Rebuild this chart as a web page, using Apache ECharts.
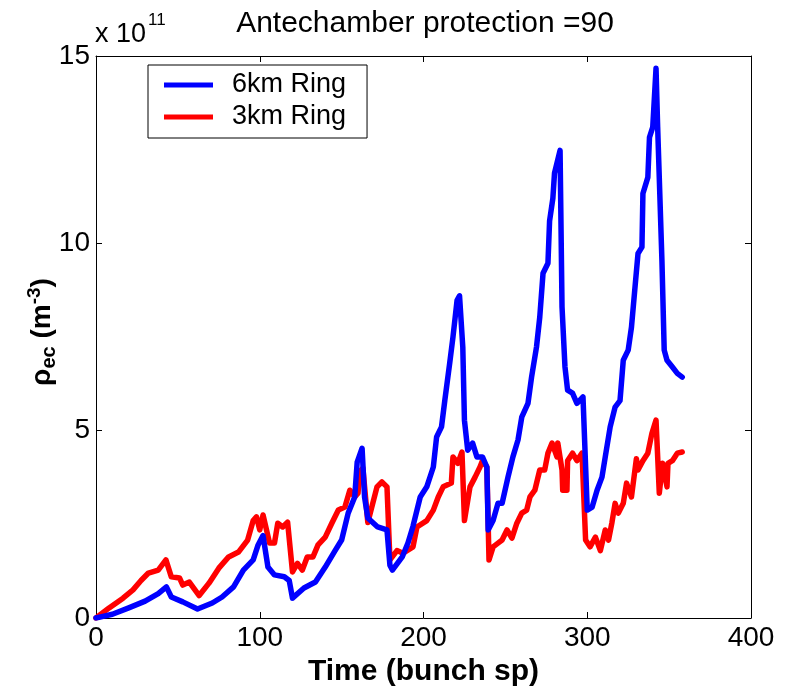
<!DOCTYPE html>
<html>
<head>
<meta charset="utf-8">
<script src="https://cdn.jsdelivr.net/npm/echarts@6/dist/echarts.min.js"></script>
<style>html,body{margin:0;padding:0;background:#fff}#c{width:785px;height:690px}</style>
</head>
<body>
<div id="c"></div>
<script>
// ---- data (x: bunch spacing, y: density in units of 1e11 m^-3) ----
var ring6km = [
  [0,0],[5,0.05],[10,0.1],[20,0.27],[30,0.45],[38,0.65],[43,0.83],[46,0.56],[53,0.43],[62,0.24],
  [71,0.4],[77,0.56],[84,0.83],[90,1.28],[96,1.55],[99,1.95],[102,2.2],[105,1.36],[109,1.15],[115,1.1],
  [118,1.0],[120,0.53],[127,0.8],[134,0.96],[140,1.36],[146,1.8],[150,2.08],[154,2.8],[158,3.23],[159.5,4.16],
  [162.5,4.53],[164,3.23],[166,2.67],[172,2.43],[177.7,2.35],[179.5,1.41],[181,1.28],[187,1.63],[190.5,2.0],[193.6,2.45],
  [198,3.23],[202,3.5],[206,4.03],[208,4.83],[211,5.1],[213,5.8],[216,6.8],[218,7.5],[220.5,8.48],[222,8.6],
  [224,7.23],[225,5.28],[227,4.48],[230,4.67],[232.6,4.3],[236,4.3],[238.7,4.03],[239.5,2.35],[242.5,2.6],[245.5,3.06],
  [248,3.06],[251.6,3.76],[254.6,4.3],[257.7,4.75],[260,5.36],[263.8,5.73],[266,6.43],[269,7.23],[271,8.03],[273,9.2],
  [276,9.47],[277,10.6],[279,11.2],[280,11.87],[283.4,12.48],[284.6,8.3],[286.4,6.7],[288,6.08],[291,6.0],[293.7,5.73],
  [297.4,5.9],[300,2.88],[303,2.96],[306,3.41],[309,3.76],[311,4.3],[314,5.1],[317,5.63],[320,5.8],[322,6.88],
  [325,7.15],[327,7.76],[329,8.75],[331,9.73],[333.4,9.9],[334,11.33],[337,11.76],[338,12.83],[340,13.1],[342,14.67],
  [343,13.1],[345.6,9.55],[347,7.15],[348.7,6.88],[352,6.7],[355,6.53],[358,6.43]
];
var ring3km = [
  [0,0],[8,0.27],[16.5,0.53],[22.6,0.75],[27.5,1.0],[32,1.2],[38,1.28],[42.7,1.55],[46,1.1],[51,1.07],
  [53,0.88],[57,0.96],[63,0.6],[69,0.93],[75,1.33],[81,1.63],[87,1.76],[92.6,2.08],[96,2.6],[98,2.7],
  [100,2.35],[102,2.75],[106,2.0],[109,2.0],[111,2.53],[114,2.43],[117,2.56],[120,1.23],[123,1.46],[126,1.28],
  [129,1.63],[132.5,1.63],[135.6,1.95],[140,2.16],[144,2.53],[148,2.88],[152,2.96],[155,3.41],[158,3.23],[160,3.33],
  [161,3.9],[163,4.0],[166,2.55],[171.6,3.5],[174.6,3.63],[177.7,3.5],[179.5,1.55],[183.8,1.8],[187.5,1.73],[193.6,1.9],
  [196,2.43],[202,2.6],[206,2.88],[209,3.23],[212,3.5],[217,3.6],[218,4.3],[221,4.13],[223.5,4.43],[225,2.6],
  [228.4,3.5],[231.5,3.76],[234.5,4.03],[236,4.2],[238.7,4.03],[240,1.55],[242.5,1.9],[245.5,2.0],[248,2.08],[251,2.35],
  [254,2.13],[257,2.53],[260,2.8],[263,2.88],[265,3.23],[268,3.41],[271,3.95],[274,3.95],[276,4.4],[278.5,4.67],
  [281.5,4.3],[282,4.67],[284.6,3.95],[285,3.41],[287.6,3.41],[288,4.2],[291,4.4],[293.7,4.2],[296.8,4.4],[299,2.08],
  [301.7,1.9],[305,2.16],[308,1.8],[311,2.35],[313,2.08],[315,2.53],[317,3.06],[319,2.8],[322,3.06],[324,3.6],
  [327,3.23],[330,4.25],[331,3.95],[334,4.2],[337,4.4],[339.5,4.93],[342,5.28],[344,3.33],[346,4.13],[348.7,3.5],
  [349.3,4.13],[352,4.2],[355,4.4],[358,4.43]
];
var seriesNames = ['6km Ring', '3km Ring'];
var xTicks = [0, 100, 200, 300, 400];
var yTicks = [0, 5, 10, 15];

var chart = echarts.init(document.getElementById('c'), null, {renderer: 'canvas'});
var FONT = 'Liberation Sans, Arial, Helvetica, sans-serif';
var axisCommon = {
  axisLine: {show: true, onZero: false, lineStyle: {color: '#000', width: 1}},
  axisTick: {show: true, inside: true, length: 6, lineStyle: {color: '#000'}},
  splitLine: {show: false}
};
chart.setOption({
  animation: false,
  backgroundColor: '#fff',
  title: {
    text: 'Antechamber protection =90',
    left: 420, top: 4, textAlign: 'center',
    textStyle: {fontFamily: FONT, fontSize: 30, fontWeight: 'normal', color: '#000'}
  },
  grid: {left: 96, right: 34, top: 56, bottom: 72, containLabel: false, outerBoundsMode: 'none'},
  legend: {
    data: seriesNames,
    orient: 'vertical',
    left: 148, top: 65,
    padding: [5, 21, 6, 16],
    itemGap: 2,
    itemWidth: 49, itemHeight: 5,
    icon: 'rect',
    borderColor: '#000', borderWidth: 1,
    backgroundColor: '#fff',
    textStyle: {fontFamily: FONT, fontSize: 27, color: '#000', lineHeight: 30, padding: [0, 0, 0, 14]}
  },
  xAxis: [
    Object.assign({
      type: 'value', min: 0, max: 400, interval: 100, position: 'bottom',
      name: 'Time (bunch sp)', nameLocation: 'middle', nameGap: 35,
      nameTextStyle: {fontFamily: FONT, fontSize: 30, fontWeight: 'bold', color: '#000'},
      axisLabel: {fontFamily: FONT, fontSize: 28, color: '#000', margin: 6}
    }, axisCommon),
    Object.assign({
      type: 'value', min: 0, max: 400, interval: 100, position: 'top',
      axisLabel: {show: false}
    }, axisCommon)
  ],
  yAxis: [
    Object.assign({
      type: 'value', min: 0, max: 15, interval: 5, position: 'left',
      axisLabel: {fontFamily: FONT, fontSize: 28, color: '#000', margin: 6}
    }, axisCommon),
    Object.assign({
      type: 'value', min: 0, max: 15, interval: 5, position: 'right',
      axisLabel: {show: false}
    }, axisCommon)
  ],
  graphic: [
    {
      type: 'text', left: 95, top: 12,
      style: {
        text: '{a|x 10}{s|11}',
        rich: {
          a: {fontFamily: FONT, fontSize: 27, fill: '#000', verticalAlign: 'bottom', lineHeight: 36},
          s: {fontFamily: FONT, fontSize: 17, fill: '#000', verticalAlign: 'top', lineHeight: 36, padding: [0, 0, 18, 2]}
        }
      }
    },
    {
      type: 'text', x: 42, y: 332, rotation: Math.PI / 2,
      style: {
        text: '{r|ρ}{sub|ec}{r| (m}{sup|-3}{r|)}',
        align: 'center', verticalAlign: 'middle',
        rich: {
          r: {fontFamily: FONT, fontSize: 28, fontWeight: 'bold', fill: '#000', lineHeight: 40},
          sub: {fontFamily: FONT, fontSize: 20, fontWeight: 'bold', fill: '#000', lineHeight: 40, padding: [14, 0, 0, 0]},
          sup: {fontFamily: FONT, fontSize: 19, fontWeight: 'bold', fill: '#000', lineHeight: 40, padding: [0, 0, 14, 0]}
        }
      }
    }
  ],
  series: [
    {
      name: seriesNames[0], type: 'line', data: ring6km, showSymbol: false, symbol: 'none',
      xAxisIndex: 0, yAxisIndex: 0,
      lineStyle: {color: '#0000ff', width: 5.5, join: 'round', cap: 'round'},
      itemStyle: {color: '#0000ff'}, z: 3
    },
    {
      name: seriesNames[1], type: 'line', data: ring3km, showSymbol: false, symbol: 'none',
      xAxisIndex: 0, yAxisIndex: 0,
      lineStyle: {color: '#ff0000', width: 5.5, join: 'round', cap: 'round'},
      itemStyle: {color: '#ff0000'}, z: 2
    }
  ]
});
</script>
</body>
</html>
